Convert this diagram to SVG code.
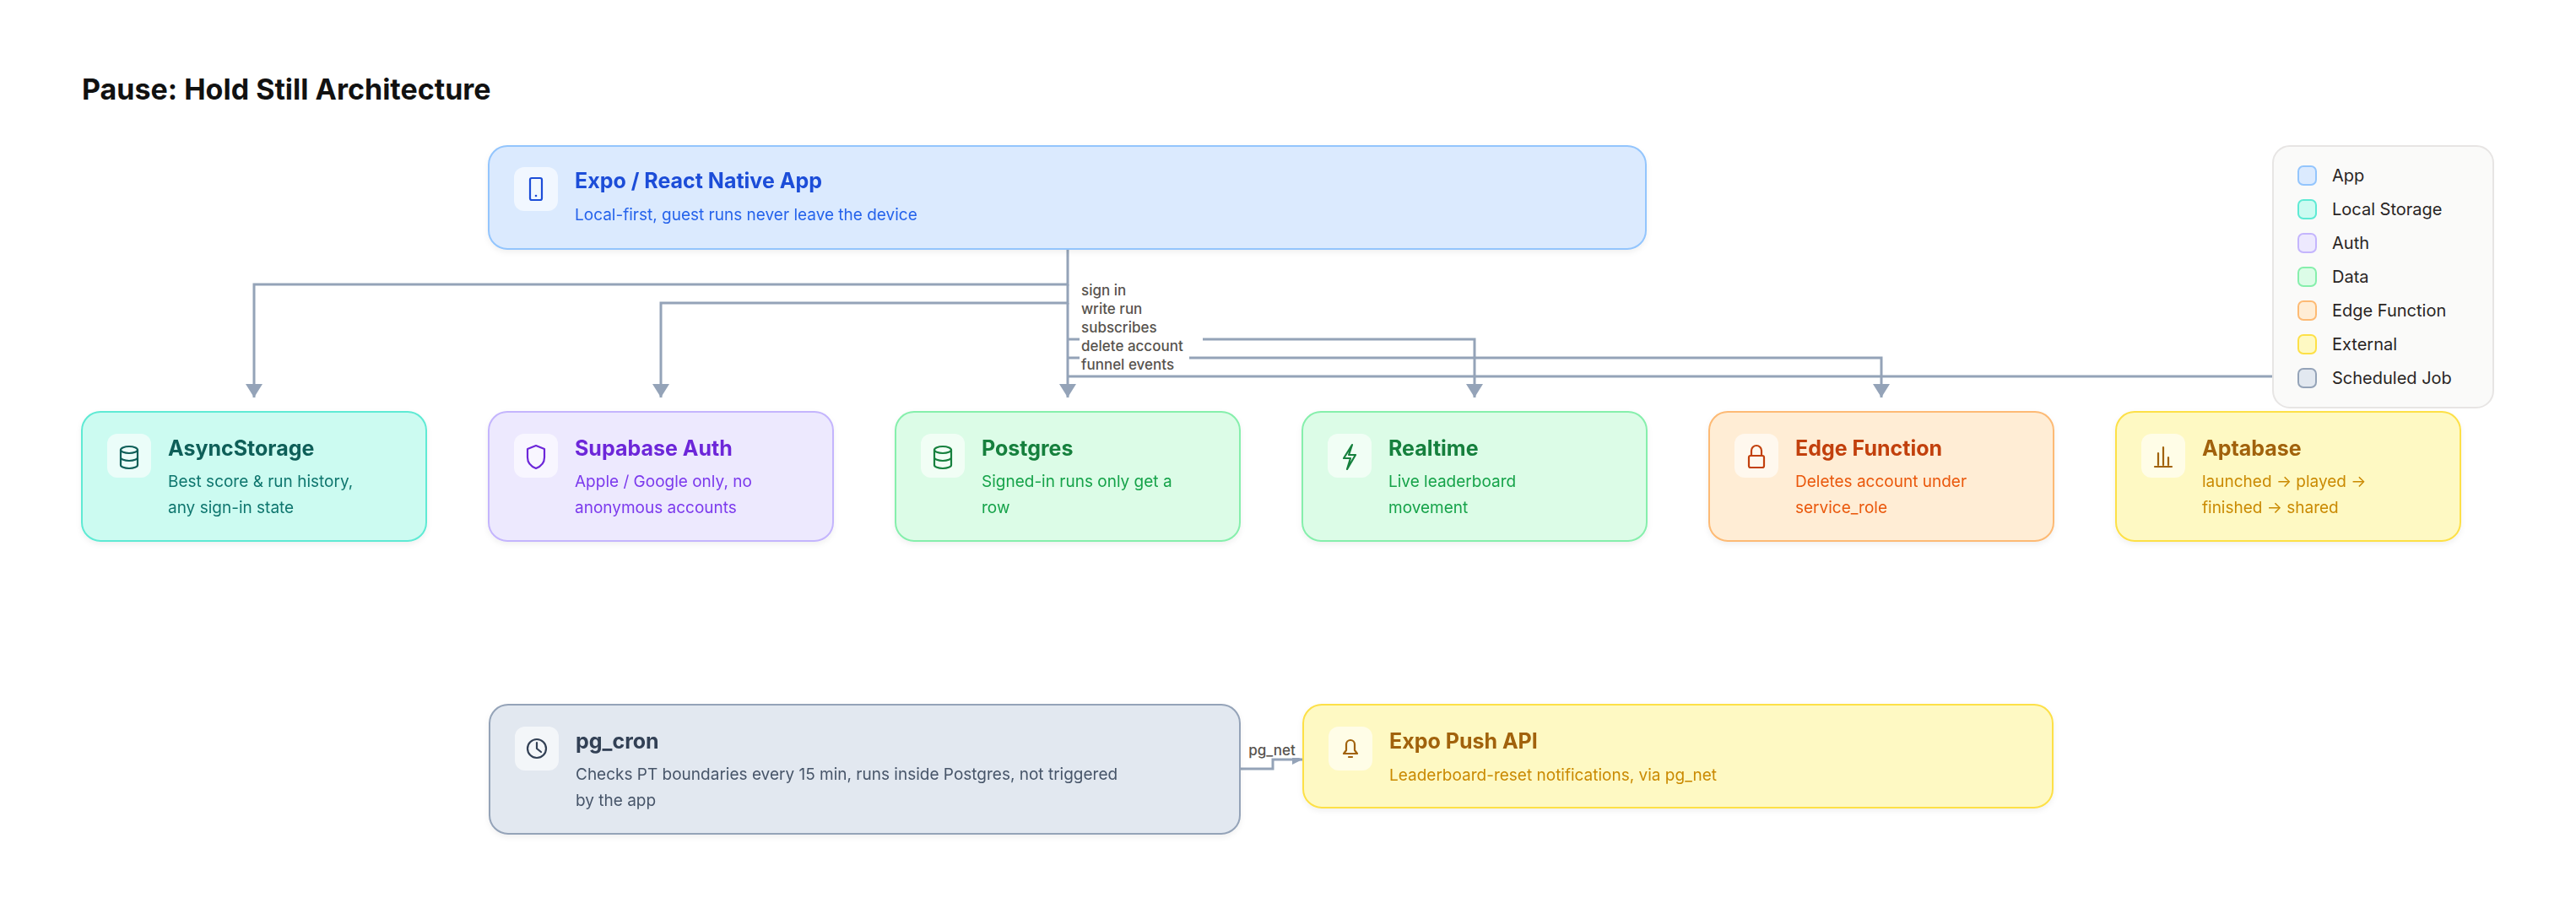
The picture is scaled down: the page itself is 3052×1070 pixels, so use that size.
<svg xmlns="http://www.w3.org/2000/svg" width="3052" height="1070" viewBox="0 0 3052 1070">
<style>
text{font-family:Inter,"DejaVu Sans",sans-serif}
.t{font-size:25px;font-weight:700}
.d{font-size:19px}
.ib{fill:#fff;fill-opacity:.6}
.ic{fill:none;stroke-width:2.2;stroke-linecap:round;stroke-linejoin:round}
.c{fill:none;stroke:#94a3b8;stroke-width:3}
.lb{font-size:17px;fill:#57534e;font-weight:500}
.lg{font-size:20px;fill:#292524}
</style>
<defs>
<marker id="ah" markerWidth="20" markerHeight="16" refX="10" refY="16" orient="0" markerUnits="userSpaceOnUse" viewBox="0 0 20 16"><path d="M0 0 L20 0 L10 16 Z" fill="#94a3b8"/></marker>
<marker id="ar" markerWidth="12" markerHeight="12" refX="12" refY="6" orient="auto" markerUnits="userSpaceOnUse"><path d="M0 0 L12 6 L0 12 Z" fill="#94a3b8"/></marker>
<filter id="sh" x="-5%" y="-10%" width="110%" height="130%"><feDropShadow dx="0" dy="3" stdDeviation="3" flood-color="#000" flood-opacity="0.06"/></filter>
</defs>
<rect width="3052" height="1070" fill="#fff"/>
<text x="97" y="118" font-size="34" font-weight="700" fill="#111">Pause: Hold Still Architecture</text>

<g id="connectors">
<path class="c" d="M1265 295 V337 H301 V471" marker-end="url(#ah)"/>
<path class="c" d="M1265 337 V359 H783 V471" marker-end="url(#ah)"/>
<path class="c" d="M1265 359 V471" marker-end="url(#ah)"/>
<path class="c" d="M1265 402 H1747 V471" marker-end="url(#ah)"/>
<path class="c" d="M1265 424 H2229 V471" marker-end="url(#ah)"/>
<path class="c" d="M1265 446 H2711 V471" marker-end="url(#ah)"/>
<g>
<rect x="1279" y="333" width="60" height="20" fill="#fff"/>
<rect x="1279" y="355" width="82" height="20" fill="#fff"/>
<rect x="1279" y="377" width="95" height="20" fill="#fff"/>
<rect x="1279" y="399" width="146" height="20" fill="#fff"/>
<rect x="1279" y="421" width="130" height="20" fill="#fff"/>
<text class="lb" x="1281" y="350">sign in</text>
<text class="lb" x="1281" y="372">write run</text>
<text class="lb" x="1281" y="394">subscribes</text>
<text class="lb" x="1281" y="416">delete account</text>
<text class="lb" x="1281" y="438">funnel events</text>
</g>
<path class="c" d="M1469 911 H1508 V900 H1543" marker-end="url(#ar)"/>
<rect x="1472" y="878" width="70" height="20" fill="#fff"/>
<text class="lb" x="1507" y="895" text-anchor="middle">pg_net</text>
</g>

<g id="app" filter="url(#sh)">
<rect x="579" y="173" width="1371" height="122" rx="22" fill="#dbeafe" stroke="#93c5fd" stroke-width="2"/>
<rect class="ib" x="609" y="198" width="52" height="52" rx="12"/>
<rect class="ic" stroke="#1d4ed8" x="628" y="211" width="14" height="26" rx="2"/>
<circle cx="635" cy="232" r="1.3" fill="#1d4ed8"/>
<text class="t" x="681" y="223" fill="#1d4ed8">Expo / React Native App</text>
<text class="d" x="681" y="261" fill="#2563eb">Local-first, guest runs never leave the device</text>
</g>

<g id="asyncstorage" filter="url(#sh)">
<rect x="97" y="488" width="408" height="153" rx="22" fill="#ccfbf1" stroke="#5eead4" stroke-width="2"/>
<rect class="ib" x="127" y="514" width="52" height="52" rx="12"/>
<g class="ic" stroke="#115e59"><ellipse cx="153" cy="533" rx="10" ry="4"/><path d="M143 533 V551 A10 4 0 0 0 163 551 V533 M143 542 A10 4 0 0 0 163 542"/></g>
<text class="t" x="199" y="540" fill="#115e59">AsyncStorage</text>
<text class="d" x="199" y="577" fill="#0f766e">Best score &amp; run history,</text>
<text class="d" x="199" y="608" fill="#0f766e">any sign-in state</text>
</g>

<g id="auth" filter="url(#sh)">
<rect x="579" y="488" width="408" height="153" rx="22" fill="#ede9fe" stroke="#c4b5fd" stroke-width="2"/>
<rect class="ib" x="609" y="514" width="52" height="52" rx="12"/>
<path class="ic" stroke="#6d28d9" d="M635 528 L645 532 V542 C645 549 640 553 635 555 C630 553 625 549 625 542 V532 Z"/>
<text class="t" x="681" y="540" fill="#6d28d9">Supabase Auth</text>
<text class="d" x="681" y="577" fill="#7c3aed">Apple / Google only, no</text>
<text class="d" x="681" y="608" fill="#7c3aed">anonymous accounts</text>
</g>

<g id="postgres" filter="url(#sh)">
<rect x="1061" y="488" width="408" height="153" rx="22" fill="#dcfce7" stroke="#86efac" stroke-width="2"/>
<rect class="ib" x="1091" y="514" width="52" height="52" rx="12"/>
<g class="ic" stroke="#15803d"><ellipse cx="1117" cy="533" rx="10" ry="4"/><path d="M1107 533 V551 A10 4 0 0 0 1127 551 V533 M1107 542 A10 4 0 0 0 1127 542"/></g>
<text class="t" x="1163" y="540" fill="#15803d">Postgres</text>
<text class="d" x="1163" y="577" fill="#16a34a">Signed-in runs only get a</text>
<text class="d" x="1163" y="608" fill="#16a34a">row</text>
</g>

<g id="realtime" filter="url(#sh)">
<rect x="1543" y="488" width="408" height="153" rx="22" fill="#dcfce7" stroke="#86efac" stroke-width="2"/>
<rect class="ib" x="1573" y="514" width="52" height="52" rx="12"/>
<path class="ic" stroke="#15803d" d="M1602 527 L1592 543 H1600 L1596 556 L1606 539 H1598 Z"/>
<text class="t" x="1645" y="540" fill="#15803d">Realtime</text>
<text class="d" x="1645" y="577" fill="#16a34a">Live leaderboard</text>
<text class="d" x="1645" y="608" fill="#16a34a">movement</text>
</g>

<g id="edge" filter="url(#sh)">
<rect x="2025" y="488" width="408" height="153" rx="22" fill="#ffedd5" stroke="#fdba74" stroke-width="2"/>
<rect class="ib" x="2055" y="514" width="52" height="52" rx="12"/>
<g class="ic" stroke="#c2410c"><rect x="2072" y="540" width="18" height="14" rx="2"/><path d="M2075 540 V534 A6 6 0 0 1 2087 534 V540"/></g>
<text class="t" x="2127" y="540" fill="#c2410c">Edge Function</text>
<text class="d" x="2127" y="577" fill="#ea580c">Deletes account under</text>
<text class="d" x="2127" y="608" fill="#ea580c">service_role</text>
</g>

<g id="aptabase" filter="url(#sh)">
<rect x="2507" y="488" width="408" height="153" rx="22" fill="#fef9c3" stroke="#fde047" stroke-width="2"/>
<rect class="ib" x="2537" y="514" width="52" height="52" rx="12"/>
<path class="ic" stroke="#a16207" d="M2553 553 H2573 M2557 551 V537 M2563 551 V530 M2569 551 V542"/>
<text class="t" x="2609" y="540" fill="#a16207">Aptabase</text>
<text class="d" x="2609" y="577" fill="#ca8a04">launched → played →</text>
<text class="d" x="2609" y="608" fill="#ca8a04">finished → shared</text>
</g>

<g id="pgcron" filter="url(#sh)">
<rect x="580" y="835" width="889" height="153" rx="22" fill="#e2e8f0" stroke="#94a3b8" stroke-width="2"/>
<rect class="ib" x="610" y="861" width="52" height="52" rx="12"/>
<g class="ic" stroke="#334155"><circle cx="636" cy="887" r="11"/><path d="M636 880 V887 L641 891"/></g>
<text class="t" x="682" y="887" fill="#334155">pg_cron</text>
<text class="d" x="682" y="924" fill="#475569">Checks PT boundaries every 15 min, runs inside Postgres, not triggered</text>
<text class="d" x="682" y="955" fill="#475569">by the app</text>
</g>

<g id="expopush" filter="url(#sh)">
<rect x="1544" y="835" width="888" height="122" rx="22" fill="#fef9c3" stroke="#fde047" stroke-width="2"/>
<rect class="ib" x="1574" y="861" width="52" height="52" rx="12"/>
<g class="ic" stroke="#a16207"><path d="M1592 893 H1608 L1605 889 V882 A5 5 0 0 0 1595 882 V889 Z M1598 897 H1602"/></g>
<text class="t" x="1646" y="887" fill="#a16207">Expo Push API</text>
<text class="d" x="1646" y="925" fill="#ca8a04">Leaderboard-reset notifications, via pg_net</text>
</g>

<g id="legend">
<rect x="2693" y="173" width="261" height="310" rx="20" fill="#fafaf9" stroke="#e7e5e4" stroke-width="2"/>
<g stroke-width="2">
<rect x="2723" y="197" width="21" height="22" rx="6" fill="#dbeafe" stroke="#93c5fd"/>
<rect x="2723" y="237" width="21" height="22" rx="6" fill="#ccfbf1" stroke="#5eead4"/>
<rect x="2723" y="277" width="21" height="22" rx="6" fill="#ede9fe" stroke="#c4b5fd"/>
<rect x="2723" y="317" width="21" height="22" rx="6" fill="#dcfce7" stroke="#86efac"/>
<rect x="2723" y="357" width="21" height="22" rx="6" fill="#ffedd5" stroke="#fdba74"/>
<rect x="2723" y="397" width="21" height="22" rx="6" fill="#fef9c3" stroke="#fde047"/>
<rect x="2723" y="437" width="21" height="22" rx="6" fill="#e2e8f0" stroke="#94a3b8"/>
</g>
<text class="lg" x="2763" y="215">App</text>
<text class="lg" x="2763" y="255">Local Storage</text>
<text class="lg" x="2763" y="295">Auth</text>
<text class="lg" x="2763" y="335">Data</text>
<text class="lg" x="2763" y="375">Edge Function</text>
<text class="lg" x="2763" y="415">External</text>
<text class="lg" x="2763" y="455">Scheduled Job</text>
</g>
</svg>
